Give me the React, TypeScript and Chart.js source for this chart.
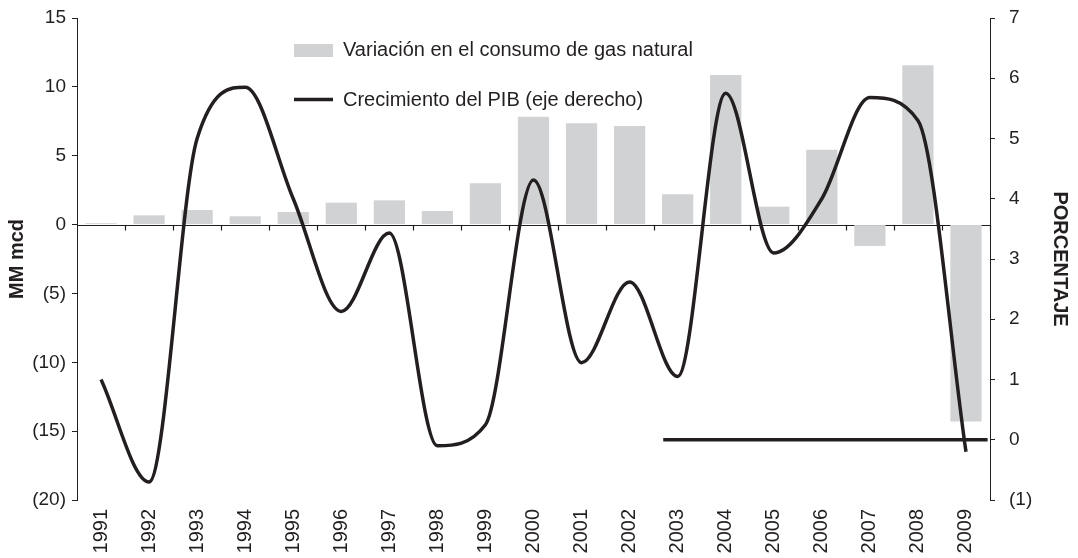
import React, { useEffect, useRef } from "react";
import { Chart, registerables } from "chart.js";

Chart.register(...registerables);

const years = ["1991","1992","1993","1994","1995","1996","1997","1998","1999","2000","2001","2002","2003","2004","2005","2006","2007","2008","2009"];
const gasVariation = [0.1, 0.67, 1.06, 0.6, 0.91, 1.59, 1.76, 0.99, 3.0, 7.83, 7.35, 7.16, 2.2, 10.86, 1.3, 5.44, -1.55, 11.56, -14.3];
const gdpGrowth = [1.0, -0.7, 5.0, 5.85, 4.0, 2.13, 3.43, -0.1, 0.25, 4.31, 1.28, 2.62, 1.05, 5.75, 3.1, 4.0, 5.68, 5.3, -0.2];
const refLineX = [11.7, 18.45];
const refLineY = [0, 0];
const leftTicks = { min: -20, max: 15, step: 5 };
const rightTicks = { min: -1, max: 7, step: 1 };
const gasLabel = "Variación en el consumo de gas natural";
const gdpLabel = "Crecimiento del PIB (eje derecho)";
const leftTitle = "MM mcd";
const rightTitle = "PORCENTAJE";

const FONT = "'Liberation Sans', Arial, Helvetica, sans-serif";
const INK = "#231f20";
const BAR = "#d1d2d4";

const fmt = (v: number) => (v < 0 ? `(${-v})` : `${v}`);

const zeroLinePlugin = {
  id: "zeroLine",
  beforeDatasetsDraw(chart: any) {
    const { ctx, chartArea, scales } = chart;
    const x = scales.x;
    const y0 = Math.round(scales.y.getPixelForValue(0)) + 0.5;
    ctx.save();
    ctx.strokeStyle = INK;
    ctx.lineWidth = 1.2;
    ctx.beginPath();
    ctx.moveTo(chartArea.left, y0);
    ctx.lineTo(chartArea.right, y0);
    const n = years.length;
    for (let i = 1; i <= n; i++) {
      const bx = i < n
        ? (x.getPixelForValue(i - 1) + x.getPixelForValue(i)) / 2
        : chartArea.right;
      const px = Math.round(bx) + 0.5;
      ctx.moveTo(px, y0);
      ctx.lineTo(px, y0 + 5);
    }
    ctx.stroke();
    ctx.restore();
  },
};

const legendPlugin = {
  id: "insideLegend",
  afterDraw(chart: any) {
    const { ctx, chartArea } = chart;
    const x0 = chartArea.left + 217;
    ctx.save();
    ctx.fillStyle = BAR;
    ctx.fillRect(x0, 44, 39, 13);
    ctx.strokeStyle = INK;
    ctx.lineWidth = 3.5;
    ctx.beginPath();
    ctx.moveTo(x0, 99.5);
    ctx.lineTo(x0 + 39, 99.5);
    ctx.stroke();
    ctx.fillStyle = INK;
    ctx.font = `20px ${FONT}`;
    ctx.textBaseline = "middle";
    ctx.textAlign = "left";
    ctx.fillText(gasLabel, x0 + 49, 50.5);
    ctx.fillText(gdpLabel, x0 + 49, 100);
    ctx.restore();
  },
};

export default function App() {
  const ref = useRef<HTMLCanvasElement | null>(null);

  useEffect(() => {
    if (!ref.current) return;
    const chart = new Chart(ref.current, {
      type: "bar",
      data: {
        labels: years,
        datasets: [
          {
            type: "line",
            label: gdpLabel,
            data: gdpGrowth,
            xAxisID: "x",
            yAxisID: "y1",
            borderColor: INK,
            borderWidth: 3.5,
            pointRadius: 0,
            cubicInterpolationMode: "monotone",
            order: 0,
          } as any,
          {
            type: "line",
            label: "ref",
            data: refLineX.map((xv, i) => ({ x: xv, y: refLineY[i] })),
            xAxisID: "xl",
            yAxisID: "y1",
            borderColor: INK,
            borderWidth: 3.5,
            pointRadius: 0,
            tension: 0,
            order: 1,
          } as any,
          {
            type: "bar",
            label: gasLabel,
            data: gasVariation,
            xAxisID: "x",
            yAxisID: "y",
            backgroundColor: BAR,
            borderWidth: 0,
            grouped: false,
            categoryPercentage: 1,
            barPercentage: 0.65,
            order: 2,
          } as any,
        ],
      },
      options: {
        animation: false,
        responsive: true,
        maintainAspectRatio: false,
        layout: { padding: { top: 18, left: 0, right: 0, bottom: 0 } },
        plugins: {
          legend: { display: false },
          tooltip: { enabled: false },
        },
        scales: {
          x: {
            type: "category",
            position: "bottom",
            offset: true,
            grid: { display: false, drawTicks: false },
            border: { display: false },
            ticks: {
              color: INK,
              font: { family: FONT, size: 20 },
              minRotation: 90,
              maxRotation: 90,
              autoSkip: false,
              padding: 9,
            },
            afterFit(s: any) { s.height = 58; },
          },
          xl: {
            type: "linear",
            display: false,
            offset: false,
            grid: { offset: false },
            min: -0.5,
            max: years.length - 0.5,
          },
          y: {
            type: "linear",
            position: "left",
            min: leftTicks.min,
            max: leftTicks.max,
            grid: { drawOnChartArea: false, tickLength: 5, color: INK, lineWidth: 1 },
            border: { color: INK, width: 1 },
            ticks: {
              stepSize: leftTicks.step,
              color: INK,
              font: { family: FONT, size: 19 },
              padding: 6,
              callback: (v: any) => fmt(Number(v)),
            },
            title: {
              display: true,
              text: leftTitle,
              color: INK,
              font: { family: FONT, size: 20, weight: "bold" },
              padding: { top: 5, bottom: 0 },
            },
            afterFit(s: any) { s.width = 77; s.paddingTop = 0; s.paddingBottom = 0; },
          },
          y1: {
            type: "linear",
            position: "right",
            min: rightTicks.min,
            max: rightTicks.max,
            grid: { drawOnChartArea: false, tickLength: 5, color: INK, lineWidth: 1 },
            border: { color: INK, width: 1 },
            ticks: {
              stepSize: rightTicks.step,
              color: INK,
              font: { family: FONT, size: 19 },
              padding: 14,
              callback: (v: any) => fmt(Number(v)),
            },
            title: {
              display: true,
              text: rightTitle,
              color: INK,
              font: { family: FONT, size: 20, weight: "bold" },
              padding: { top: 6, bottom: 0 },
            },
            afterFit(s: any) { s.width = 88; s.paddingTop = 0; s.paddingBottom = 0; },
          },
        },
      },
      plugins: [zeroLinePlugin, legendPlugin],
    } as any);
    return () => chart.destroy();
  }, []);

  return (
    <div style={{ position: "fixed", left: 0, top: 0, width: 1078, height: 558, background: "#fff" }}>
      <canvas ref={ref} />
    </div>
  );
}
